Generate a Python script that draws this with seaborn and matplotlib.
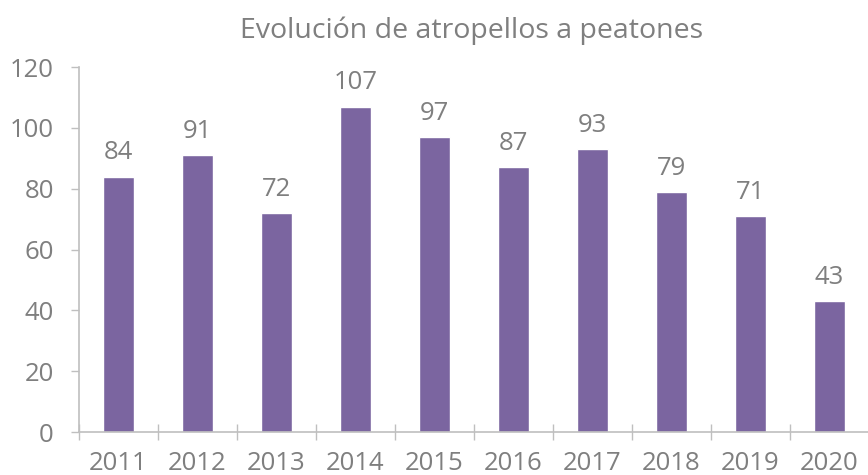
import numpy as np
import pandas as pd
import matplotlib
matplotlib.use("Agg")
import matplotlib.pyplot as plt
import seaborn as sns
from matplotlib.ticker import FixedLocator

years = ["2011", "2012", "2013", "2014", "2015", "2016", "2017", "2018", "2019", "2020"]
atropellos = [84, 91, 72, 107, 97, 87, 93, 79, 71, 43]

BAR = "#7B65A0"
TEXT = "#7F7F7F"
AXIS = "#BFBFBF"

sns.set_theme(style="white")
plt.rcParams['font.family'] = ['Open Sans', 'DejaVu Sans']

df = pd.DataFrame({"year": years, "value": atropellos})

fig = plt.figure(figsize=(8.68, 4.75), dpi=100)
ax = fig.add_axes([79 / 868, 43 / 475, 790 / 868, 365 / 475])

sns.barplot(data=df, x="year", y="value", color=BAR, width=0.39, saturation=1, ax=ax)

ax.set_xlim(-0.5, len(years) - 0.5)
ax.set_ylim(0, 120)
ax.set_yticks(np.arange(0, 121, 20))

# value labels
for i, v in enumerate(atropellos):
    ax.annotate(str(v), (i, v), xytext=(0, 8), textcoords="offset points",
                ha="center", va="bottom", fontsize=18.5, color=TEXT)

# x: labels at centres, ticks at boundaries
ax.set_xticks(np.arange(len(years)))
ax.set_xticklabels(years)
ax.xaxis.set_minor_locator(FixedLocator(np.arange(-0.5, len(years), 1.0)))
ax.tick_params(axis="x", which="major", length=0, pad=14, labelsize=18.5, labelcolor=TEXT)
ax.tick_params(axis="x", which="minor", direction="inout", length=12, width=1, color=AXIS, bottom=True)
ax.tick_params(axis="y", which="major", direction="out", length=6, width=1, color=AXIS,
               left=True, pad=12, labelsize=18.5, labelcolor=TEXT)

for s in ["top", "right"]:
    ax.spines[s].set_visible(False)
for s in ["left", "bottom"]:
    ax.spines[s].set_color(AXIS)
    ax.spines[s].set_linewidth(1.2)

ax.set_xlabel("")
ax.set_ylabel("")
fig.text(0.543, 0.935, "Evolución de atropellos a peatones", ha="center", va="center",
         fontsize=20.5, color=TEXT)

fig.savefig("out.png", dpi=100, facecolor="white")
